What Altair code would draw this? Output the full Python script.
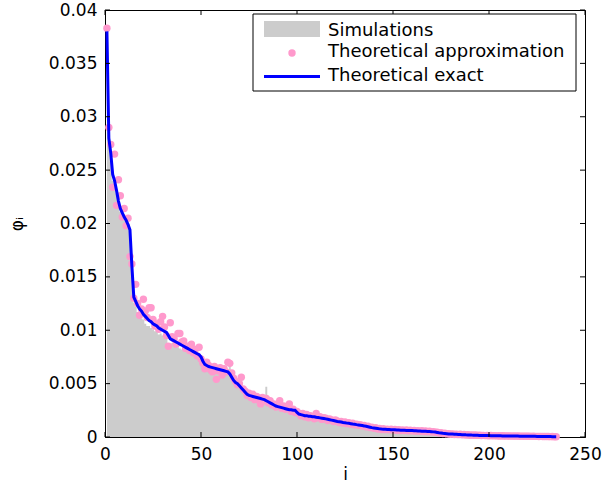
import altair as alt
import pandas as pd

# index i = 1..235
idx = list(range(1, 236))

# values in units of 1e-4
exact = [
    380, 280, 266, 246, 240, 231, 221, 214, 210, 206,
    203, 199, 194, 160, 131, 127, 123, 120, 118, 115,
    113, 111, 109, 108, 106, 105, 104, 102, 101, 100,
    99, 98, 95, 92, 91, 90, 89, 88, 87, 86,
    85, 84, 83, 82, 81, 80, 79, 78, 77, 75,
    71, 68, 67, 66, 65.5, 65, 64.5, 64, 63.5, 63,
    62.5, 62, 61.5, 61, 59, 56, 53, 51, 50, 48,
    46, 44, 42, 40, 39, 38.5, 38, 37.5, 37, 36.5,
    36, 35.5, 35, 34, 33, 32, 31, 30, 29, 28.5,
    28, 27.5, 27, 26.5, 26, 25.5, 25.5, 25, 25, 23,
    21.5, 21, 20.5, 20, 20, 19.5, 19.5, 19, 19, 18.5,
    18.2, 17.9, 17.6, 17.3, 17, 16.6, 16.2, 15.8, 15.4, 15,
    14.6, 14.3, 14, 13.6, 13.3, 13, 12.8, 12.5, 12.2, 12,
    11.6, 11.3, 11, 10.7, 10.4, 10, 9.6, 9.2, 8.8, 8.5,
    8.2, 7.9, 7.6, 7.4, 7.3, 7.2, 7.1, 7, 6.9, 6.8,
    6.7, 6.6, 6.5, 6.4, 6.3, 6.3, 6.2, 6.1, 6.0, 6.0,
    5.9, 5.8, 5.7, 5.6, 5.5, 5.4, 5.3, 5.2, 5.1, 5.0,
    4.8, 4.6, 4.3, 4.0, 3.8, 3.5, 3.3, 3.1, 2.9, 2.8,
    2.7, 2.6, 2.5, 2.4, 2.3, 2.2, 2.1, 2.0, 1.95, 1.9,
    1.8, 1.75, 1.7, 1.6, 1.5, 1.45, 1.4, 1.35, 1.3, 1.3,
    1.25, 1.2, 1.2, 1.15, 1.1, 1.1, 1.05, 1.0, 1.0, 0.95,
    0.95, 0.9, 0.9, 0.85, 0.85, 0.8, 0.8, 0.75, 0.75, 0.7,
    0.7, 0.65, 0.6, 0.6, 0.55, 0.55, 0.5, 0.5, 0.45, 0.45,
    0.4, 0.4, 0.35, 0.3, 0.3,
]

approx = [
    383, 290, 274, 234, 265, 217, 241, 226, 206, 214,
    198, 205, 169, 162, 130, 143, 125, 114, 120, 129,
    118, 112, 121, 121, 110, 104, 106, 101, 108, 113,
    103, 95, 85, 107, 94, 92, 87, 97, 97, 89,
    90, 83, 85, 81, 87, 79, 82, 76, 84, 73,
    69, 64, 70, 67, 63, 61, 66, 54, 62, 65,
    58, 64, 61, 70, 69, 60, 55, 52, 49, 50,
    56, 45, 43, 39, 41, 37, 40, 35, 38, 36,
    31, 37, 34, 36, 32, 34, 30, 31, 28, 29,
    34, 27, 29, 26, 28, 31, 24, 26, 23, 24,
    22, 20, 22, 19, 21, 18, 20, 19, 17, 22,
    18, 19, 16.5, 18, 17.5, 15.5, 17, 16, 14.5, 16,
    15, 13.5, 14.5, 13, 14, 12.5, 13.5, 12, 13, 11.5,
    12, 11, 11.5, 10.2, 10.8, 9.6, 10, 8.8, 9.2, 8.1,
    8.6, 7.5, 8, 7.1, 7.7, 6.9, 7.4, 6.7, 7.2, 6.5,
    7, 6.3, 6.8, 6.1, 6.6, 6, 6.5, 5.8, 6.3, 5.7,
    6.2, 5.5, 6, 5.3, 5.8, 5.1, 5.6, 5, 5.4, 4.8,
    5, 4.4, 4.5, 3.8, 4, 3.3, 3.5, 2.9, 3.1, 2.6,
    2.9, 2.4, 2.7, 2.2, 2.5, 2.0, 2.3, 1.8, 2.1, 1.7,
    1.9, 1.6, 1.8, 1.5, 1.6, 1.4, 1.5, 1.3, 1.4, 1.2,
    1.35, 1.1, 1.3, 1.05, 1.2, 1.0, 1.15, 0.95, 1.05, 0.9,
    1.0, 0.85, 0.95, 0.8, 0.9, 0.75, 0.85, 0.7, 0.8, 0.65,
    0.75, 0.6, 0.65, 0.55, 0.6, 0.5, 0.55, 0.45, 0.5, 0.4,
    0.45, 0.35, 0.4, 0.3, 0.3,
]

sim = [
    288, 275, 258, 240, 236, 228, 218, 211, 207, 203,
    200, 196, 185, 150, 126, 122, 117, 113, 111, 110,
    106, 104, 104, 102, 101, 99, 100, 96, 97, 95,
    93, 94, 88, 87, 88, 85, 86, 84, 83, 82,
    82, 80, 80, 78, 78, 77, 75, 75, 73, 71,
    68, 66, 64, 64, 62, 63, 61, 62, 60, 61,
    59, 60, 58, 59, 67, 53, 51, 49, 48, 46,
    44, 43, 41, 38, 38, 37, 36, 36, 35, 35,
    34, 34, 33, 47, 31, 31, 29, 29, 28, 27,
    27, 26, 26, 25, 25, 24, 24, 24, 23, 22,
    20, 20, 19.5, 19, 19, 18.5, 18.5, 18, 18, 17.5,
    17.5, 17, 17, 16.5, 16, 16, 15.5, 15, 15, 14.5,
    14, 14, 13.5, 13, 13, 12.5, 12.5, 12, 11.8, 11.5,
    11.2, 11, 10.6, 10.4, 10, 9.7, 9.3, 9, 8.6, 8.3,
    8, 7.7, 7.4, 7.2, 7.1, 7, 6.9, 6.8, 6.7, 6.6,
    6.5, 6.4, 6.3, 6.2, 6.1, 6.1, 6, 5.9, 5.8, 5.8,
    5.7, 5.6, 5.5, 5.4, 5.3, 5.2, 5.1, 5, 4.9, 4.8,
    4.6, 4.4, 4.1, 3.8, 3.6, 3.3, 3.1, 3, 2.8, 2.7,
    2.6, 2.5, 2.4, 2.3, 2.2, 2.1, 2, 1.9, 1.9, 1.8,
    1.7, 1.7, 1.6, 1.5, 1.45, 1.4, 1.35, 1.3, 1.25, 1.25,
    1.2, 1.15, 1.15, 1.1, 1.05, 1.05, 1.0, 0.95, 0.95, 0.9,
    0.9, 0.85, 0.85, 0.8, 0.8, 0.75, 0.75, 0.7, 0.7, 0.65,
    0.65, 0.6, 0.55, 0.55, 0.5, 0.5, 0.45, 0.45, 0.4, 0.4,
    0.35, 0.35, 0.3, 0.25, 0.25,
]

x_ticks = [0, 50, 100, 150, 200, 250]
y_ticks = [0, 0.005, 0.01, 0.015, 0.02, 0.025, 0.03, 0.035, 0.04]
legend_labels = ["Simulations", "Theoretical approximation", "Theoretical exact"]

UNIT = 1e-4
df = pd.DataFrame({
    "i": idx,
    "exact": [v * UNIT for v in exact],
    "approx": [v * UNIT for v in approx],
    "sim": [v * UNIT for v in sim],
})

FONT = "DejaVu Sans"
TOP = 10
W, H = 480, 427
GREY = "#cccccc"
PINK = "#ff99cc"
BLUE = "#0000ff"

xscale = alt.Scale(domain=[0, 250], nice=False)
yscale = alt.Scale(domain=[0, 0.04], nice=False)

xaxis = alt.Axis(values=x_ticks, tickSize=0, labelPadding=9, title="i",
                 titlePadding=4, grid=False, labelFlush=False)
yaxis = alt.Axis(values=y_ticks, tickSize=0, labelPadding=8, format="~g",
                 title="φᵢ", titlePadding=22, grid=False, titleAngle=-90)

base = alt.Chart(df)
area = base.mark_area(interpolate="step", color=GREY).encode(
    x=alt.X("i:Q", scale=xscale, axis=xaxis),
    y=alt.Y("sim:Q", scale=yscale, axis=yaxis),
)
points = base.mark_circle(size=55, color=PINK, opacity=1).encode(
    x="i:Q", y="approx:Q"
)
line = base.mark_line(color=BLUE, strokeWidth=3).encode(
    x="i:Q", y="exact:Q"
)

xt = alt.Chart(pd.DataFrame({"t": x_ticks}))
yt = alt.Chart(pd.DataFrame({"t": y_ticks}))
tick_b = xt.mark_rule(color="black").encode(x="t:Q", y=alt.value(H), y2=alt.value(H - 5))
tick_t = xt.mark_rule(color="black").encode(x="t:Q", y=alt.value(0), y2=alt.value(5))
tick_l = yt.mark_rule(color="black").encode(y="t:Q", x=alt.value(0), x2=alt.value(5))
tick_r = yt.mark_rule(color="black").encode(y="t:Q", x=alt.value(W), x2=alt.value(W - 5))

one = alt.Chart(pd.DataFrame({"k": [0]}))
dy = 6 - TOP
leg_box = one.mark_rect(fill="white", stroke="black", strokeWidth=1).encode(
    x=alt.value(148), x2=alt.value(471), y=alt.value(8 + dy), y2=alt.value(85 + dy))
leg_grey = one.mark_rect(fill=GREY).encode(
    x=alt.value(159), x2=alt.value(215), y=alt.value(15 + dy), y2=alt.value(31 + dy))
leg_dot = one.mark_circle(size=55, color=PINK, opacity=1).encode(
    x=alt.value(187), y=alt.value(47 + dy))
leg_line = one.mark_rule(color=BLUE, strokeWidth=3).encode(
    x=alt.value(159), x2=alt.value(215), y=alt.value(70.5 + dy))
leg_txt = []
for lab, yy in zip(legend_labels, [30, 51, 75]):
    leg_txt.append(one.mark_text(text=lab, align="left", baseline="alphabetic",
                                 font=FONT, fontSize=18, color="black").encode(
        x=alt.value(223), y=alt.value(yy + dy)))

chart = alt.layer(
    area, points, line, tick_b, tick_t, tick_l, tick_r,
    leg_box, leg_grey, leg_dot, leg_line, *leg_txt
).properties(
    width=W, height=H,
    autosize=alt.AutoSizeParams(type="none"),
    padding={"left": 105, "top": TOP, "right": 17, "bottom": 486 - TOP - H},
    background="white",
).configure_view(
    stroke="black", strokeWidth=1
).configure_axis(
    labelFont=FONT, labelFontSize=17, labelColor="black",
    titleFont=FONT, titleFontSize=17, titleColor="black", titleFontWeight="normal",
    domainColor="black", domainWidth=1,
)

chart.save("out.html", embed_options={"renderer": "svg", "actions": False})
